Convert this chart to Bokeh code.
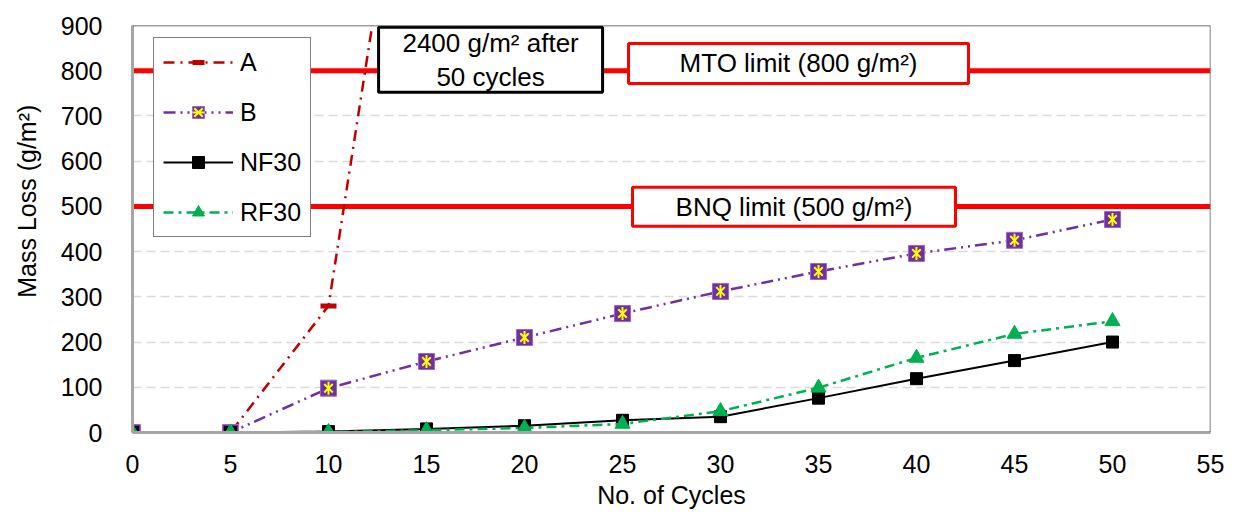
from math import pi
from bokeh.plotting import figure
from bokeh.models import Range1d, FixedTicker, Span, Label
from bokeh.embed import file_html
from bokeh.resources import INLINE

# ---- data ----
cycles = [0, 5, 10, 15, 20, 25, 30, 35, 40, 45, 50]
a_cycles = [0, 5, 10, 15]
mass_a = [0, 0, 280, 1670]
mass_b = [0, 0, 98, 157, 210, 263, 312, 356, 396, 425, 471]
mass_nf30 = [0, 0, 2, 8, 15, 27, 35, 76, 119, 159, 200]
mass_rf30 = [0, 0, 1, 5, 10, 19, 47, 99, 165, 218, 246]
limit_values = [800, 500]
limit_texts = ["MTO limit (800 g/m\u00b2)", "BNQ limit (500 g/m\u00b2)"]
note_text = "2400 g/m\u00b2 after\n50 cycles"
x_ticks = [0, 5, 10, 15, 20, 25, 30, 35, 40, 45, 50, 55]
y_ticks = [0, 100, 200, 300, 400, 500, 600, 700, 800, 900]
x_title = "No. of Cycles"
y_title = "Mass Loss (g/m\u00b2)"

FONT = "Liberation Sans"
FS = "25px"

p = figure(width=1235, height=512, x_range=Range1d(0, 55), y_range=Range1d(0, 900),
           output_backend="svg", toolbar_location=None,
           min_border_left=132, min_border_right=25, min_border_top=25, min_border_bottom=80)
p.outline_line_color = None
p.background_fill_color = "white"

for ax, ticks in ((p.xaxis, x_ticks), (p.yaxis, y_ticks)):
    ax.ticker = FixedTicker(ticks=ticks)
    ax.major_label_text_font = FONT
    ax.major_label_text_font_size = FS
    ax.major_label_text_color = "black"
    ax.major_tick_line_color = None
    ax.minor_tick_line_color = None
    ax.axis_line_color = "#A6A6A6"
    ax.axis_line_width = 3
    ax.axis_label_text_font = FONT
    ax.axis_label_text_font_size = FS
    ax.axis_label_text_font_style = "normal"
    ax.axis_label_text_color = "black"
p.xaxis.major_label_standoff = 16
p.yaxis.major_label_standoff = 24
p.xaxis.axis_label = x_title
p.xaxis.axis_label_standoff = 5
# leading no-break spaces shift the centred rotated title upwards, as in the reference
p.yaxis.axis_label = "\u00a0" * 8 + y_title
p.yaxis.axis_label_standoff = 17

p.xgrid.visible = False
p.ygrid.ticker = FixedTicker(ticks=y_ticks)
p.ygrid.grid_line_color = "#D9D9D9"
p.ygrid.grid_line_dash = "9 5"
p.ygrid.grid_line_width = 1.5

# frame top / right borders
p.add_layout(Span(location=900, dimension="width", line_color="#404040", line_width=1.5))
p.add_layout(Span(location=55, dimension="height", line_color="#595959", line_width=1.5))

# limit lines
for v in limit_values:
    p.add_layout(Span(location=v, dimension="width", line_color="#FF0000", line_width=5, level="underlay"))

# series
p.line(a_cycles, mass_a, line_color="#C00000", line_width=2.5, line_dash="11 6 2 6", legend_label="A")
p.scatter(a_cycles, mass_a, marker="dash", size=16, line_color="#C00000", line_width=5, legend_label="A")

p.line(cycles, mass_b, line_color="#7030A0", line_width=2.5, line_dash="12 5 2 5 2 5", legend_label="B")
p.scatter(cycles, mass_b, marker="square", size=16, fill_color="#7030A0", line_color="#9966CC",
          line_width=1, legend_label="B")
p.scatter(cycles, mass_b, marker="x", size=12, line_color="#FFFF00", line_width=2, legend_label="B")
p.scatter(cycles, mass_b, marker="dash", size=13, angle=pi / 2, line_color="#FFFF00", line_width=2,
          legend_label="B")

p.line(cycles, mass_nf30, line_color="black", line_width=2, legend_label="NF30")
p.scatter(cycles, mass_nf30, marker="square", size=12, fill_color="black", line_color="black",
          legend_label="NF30")

p.line(cycles, mass_rf30, line_color="#00B050", line_width=2.5, line_dash="10 5 3 5", legend_label="RF30")
p.scatter(cycles, mass_rf30, marker="triangle", size=15, fill_color="#00B050", line_color="#00B050",
          legend_label="RF30")

# text boxes
box_x = [33.98, 33.75, 18.27]
box_y = [816, 499, 824]
box_w = [340, 323, 224]
box_h = [40, 39, 65]
box_c = ["#FF0000", "#FF0000", "black"]
p.rect(x=box_x, y=box_y, width=box_w, height=box_h, width_units="screen", height_units="screen",
       fill_color="white", line_color=box_c, line_width=3)
for i, t in enumerate(limit_texts + [note_text]):
    p.add_layout(Label(x=box_x[i], y=box_y[i], text=t, text_align="center", text_baseline="middle",
                       text_font=FONT, text_font_size="26px", text_color="black", text_line_height=1.12))

# legend
lg = p.legend[0]
lg.location = (21, 195)
lg.label_text_font = FONT
lg.label_text_font_size = FS
lg.label_text_color = "black"
lg.glyph_width = 70
lg.glyph_height = 30
lg.label_height = 30
lg.spacing = 20
lg.padding = 9
lg.margin = 0
lg.label_standoff = 7
lg.border_line_color = "black"
lg.border_line_width = 1.5
lg.background_fill_color = "white"
lg.background_fill_alpha = 1.0

open("out.html", "w").write(file_html(p, INLINE))
